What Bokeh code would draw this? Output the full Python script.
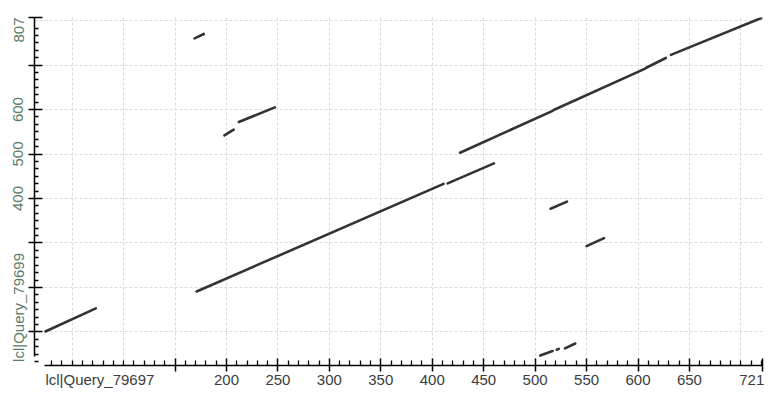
from bokeh.plotting import figure
from bokeh.models import FixedTicker, Range1d, ColumnDataSource, LinearAxis
from bokeh.embed import file_html
from bokeh.resources import INLINE

# ---- data (alignment segments: query_79697 position vs query_79699 position) ----
seg_x0 = [24, 171, 415, 427, 518, 608, 632, 169, 198, 212, 515, 550, 505, 521, 529]
seg_y0 = [101, 191, 434, 503, 599, 694, 723, 760, 542, 572, 377, 293, 47, 60, 63]
seg_x1 = [73, 411, 460, 517, 607, 627, 721, 178, 207, 247, 531, 567, 517, 523, 539]
seg_y1 = [153, 433, 479, 597, 692, 716, 807, 770, 555, 605, 393, 311, 57, 62, 74]

x_label = "lcl|Query_79697"
y_label = "lcl|Query_79699"
x_major = [150, 200, 250, 300, 350, 400, 450, 500, 550, 600, 650, 721]
x_minor = [v for v in range(30, 721, 10) if v not in x_major]
y_major = [100, 200, 300, 400, 500, 600, 700, 807]
y_shown = [400, 500, 600]
y_minor = [round(m + k * 100 / 6, 2) for m in range(0, 800, 100) for k in range(1, 6)]
x_grid = list(range(50, 701, 50))
y_grid = [100, 200, 300, 400, 500, 600, 700, 800]
# where BLAST prints the sequence names and end values beside the axes
x_name_at, x_end_at, x_end_text = 77, 710.6, "721"
y_name_at, y_end_at, y_end_text = 155, 779, "807"

FONT = "Liberation Sans"
XCOL = "#3a3d40"
YCOL = "#5b7c66"

p = figure(width=768, height=400,
           x_range=Range1d(13.4, 721), y_range=Range1d(24.5, 807),
           output_backend="svg", toolbar_location=None,
           min_border_left=34, min_border_right=6,
           min_border_top=17, min_border_bottom=35)
p.outline_line_color = None
p.background_fill_color = "#ffffff"

# grid
p.xgrid.ticker = FixedTicker(ticks=x_grid)
p.ygrid.ticker = FixedTicker(ticks=y_grid)
for g in (p.xgrid, p.ygrid):
    g.grid_line_color = "#d9dcd9"
    g.grid_line_dash = "3 2"
    g.grid_line_width = 1

# x axis
xa = p.xaxis[0]
xa.ticker = FixedTicker(ticks=x_major, minor_ticks=x_minor)
xa.bounds = (23, 721)
xa.major_label_overrides = {150: "", 721: ""}
xa.axis_line_color = "black"
xa.axis_line_width = 1.5
xa.major_tick_line_color = "black"
xa.major_tick_line_width = 1.5
xa.minor_tick_line_color = "black"
xa.minor_tick_line_width = 1.3
xa.major_tick_in = 7
xa.major_tick_out = 6
xa.minor_tick_in = 5
xa.minor_tick_out = 0
xa.major_label_standoff = 3
xa.major_label_text_font = FONT
xa.major_label_text_font_size = "15px"
xa.major_label_text_color = XCOL

# label-only bottom axis: sequence name and end value in the same row
xe = LinearAxis(ticker=FixedTicker(ticks=[x_name_at, x_end_at]),
                major_label_overrides={x_name_at: x_label, x_end_at: x_end_text},
                axis_line_color=None, major_tick_line_color=None,
                minor_tick_line_color=None, major_tick_in=0, major_tick_out=0,
                minor_tick_in=0, minor_tick_out=0, major_label_standoff=-17,
                major_label_text_font=FONT, major_label_text_font_size="15px",
                major_label_text_color=XCOL)
p.add_layout(xe, "below")

# y axis
ya = p.yaxis[0]
ya.ticker = FixedTicker(ticks=y_major, minor_ticks=y_minor)
ya.bounds = (44.7, 807)
ya.major_label_overrides = {t: ("" if t not in y_shown else str(t)) for t in y_major}
ya.major_label_orientation = "vertical"
ya.axis_line_color = "black"
ya.axis_line_width = 1.5
ya.major_tick_line_color = "black"
ya.major_tick_line_width = 1.5
ya.minor_tick_line_color = "black"
ya.minor_tick_line_width = 1.3
ya.major_tick_in = 8
ya.major_tick_out = 6
ya.minor_tick_in = 4
ya.minor_tick_out = 0
ya.major_label_standoff = 5
ya.major_label_text_font = FONT
ya.major_label_text_font_size = "15px"
ya.major_label_text_color = YCOL

# label-only left axis: sequence name and end value in the same column
ye = LinearAxis(ticker=FixedTicker(ticks=[y_name_at, y_end_at]),
                major_label_overrides={y_name_at: y_label, y_end_at: y_end_text},
                major_label_orientation="vertical",
                axis_line_color=None, major_tick_line_color=None,
                minor_tick_line_color=None, major_tick_in=0, major_tick_out=0,
                minor_tick_in=0, minor_tick_out=0, major_label_standoff=-17,
                major_label_text_font=FONT, major_label_text_font_size="15px",
                major_label_text_color=YCOL)
p.add_layout(ye, "left")

# alignment segments
src = ColumnDataSource(dict(x0=seg_x0, y0=seg_y0, x1=seg_x1, y1=seg_y1))
p.segment("x0", "y0", "x1", "y1", source=src, line_color="#333333",
          line_width=2.6, line_cap="round")

open("out.html", "w").write(file_html(p, INLINE))
